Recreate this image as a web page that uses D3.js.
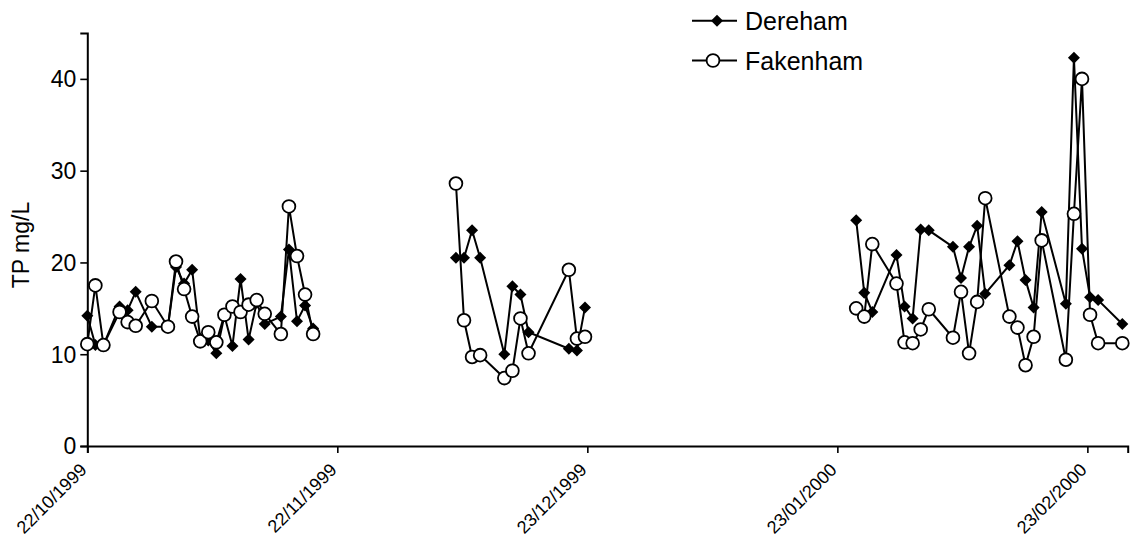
<!DOCTYPE html>
<html>
<head>
<meta charset="utf-8">
<script src="https://cdn.jsdelivr.net/npm/d3@7/dist/d3.min.js"></script>
<style>
  body { margin: 0; background: #fff; }
  svg text { font-family: "Liberation Sans", Arial, Helvetica, sans-serif; fill: #000; }
</style>
</head>
<body>
<svg id="chart" width="1130" height="541"></svg>
<script>
// Sampling times (local), one per sample
const sampleTimes = [
  "1999-10-22 00:00", "1999-10-23 00:00", "1999-10-24 00:00", "1999-10-26 00:00",
  "1999-10-27 00:00", "1999-10-28 00:00", "1999-10-30 00:00", "1999-11-01 00:00",
  "1999-11-02 00:00", "1999-11-03 00:00", "1999-11-04 00:00", "1999-11-05 00:00",
  "1999-11-06 00:00", "1999-11-07 00:00", "1999-11-08 00:00", "1999-11-09 00:00",
  "1999-11-10 00:00", "1999-11-11 00:00", "1999-11-12 00:00", "1999-11-13 00:00",
  "1999-11-15 00:00", "1999-11-16 00:00", "1999-11-17 00:00", "1999-11-18 00:00",
  "1999-11-19 00:00",
  "1999-12-06 17:00", "1999-12-07 17:00", "1999-12-08 17:00", "1999-12-09 17:00",
  "1999-12-12 17:00", "1999-12-13 17:00", "1999-12-14 17:00", "1999-12-15 17:00",
  "1999-12-20 17:00", "1999-12-21 17:00", "1999-12-22 17:00",
  "2000-01-25 08:00", "2000-01-26 08:00", "2000-01-27 08:00", "2000-01-30 08:00",
  "2000-01-31 08:00", "2000-02-01 08:00", "2000-02-02 08:00", "2000-02-03 08:00",
  "2000-02-06 08:00", "2000-02-07 08:00", "2000-02-08 08:00", "2000-02-09 08:00",
  "2000-02-10 08:00", "2000-02-13 08:00", "2000-02-14 08:00", "2000-02-15 08:00",
  "2000-02-16 08:00", "2000-02-17 08:00", "2000-02-20 08:00", "2000-02-21 08:00",
  "2000-02-22 08:00", "2000-02-23 08:00", "2000-02-24 08:00", "2000-02-27 08:00"
];

// Total phosphorus, mg/L
const dereham = [
  14.2, 11.0, 11.0, 15.2, 14.8, 16.8, 13.0, 13.0, 19.5, 17.7, 19.2, 11.7, 11.5,
  10.1, 14.2, 10.9, 18.2, 11.6, 15.6, 13.3, 14.1, 21.4, 13.6, 15.3, 12.8,
  20.5, 20.5, 23.5, 20.5, 10.0, 17.4, 16.5, 12.4, 10.6, 10.4, 15.1,
  24.6, 16.7, 14.6, 20.8, 15.2, 13.9, 23.6, 23.5, 21.7, 18.3, 21.7, 24.0,
  16.6, 19.7, 22.3, 18.1, 15.1, 25.5, 15.5, 42.3, 21.5, 16.2, 15.9, 13.3
];
const fakenham = [
  11.1, 17.5, 11.0, 14.6, 13.5, 13.1, 15.8, 13.0, 20.1, 17.1, 14.1, 11.4, 12.4,
  11.3, 14.3, 15.2, 14.6, 15.4, 15.9, 14.4, 12.2, 26.1, 20.7, 16.5, 12.2,
  28.6, 13.7, 9.7, 9.9, 7.4, 8.2, 13.9, 10.1, 19.2, 11.7, 11.9,
  15.0, 14.1, 22.0, 17.7, 11.3, 11.2, 12.7, 14.9, 11.8, 16.8, 10.1, 15.7,
  27.0, 14.1, 12.9, 8.8, 11.9, 22.4, 9.4, 25.3, 40.0, 14.3, 11.2, 11.2
];

const seriesNames = ["Dereham", "Fakenham"];
const xDomain = ["1999-10-22", "2000-02-28"];
const xTickDates = ["1999-10-22", "1999-11-22", "1999-12-23", "2000-01-23", "2000-02-23"];
const xTickLabels = ["22/10/1999", "22/11/1999", "23/12/1999", "23/01/2000", "23/02/2000"];
const yTicks = [0, 10, 20, 30, 40];
const yMax = 45;
const yLabel = "TP mg/L";

const parseTime = d3.timeParse("%Y-%m-%d %H:%M");
const parseDay = d3.timeParse("%Y-%m-%d");

const svg = d3.select("#chart");

const x = d3.scaleTime()
  .domain(xDomain.map(parseDay))
  .range([87.3, 1127.7]);
const y = d3.scaleLinear()
  .domain([0, yMax])
  .range([446, 33]);

// Axes
const yAxis = d3.axisLeft(y).tickValues(yTicks).tickSize(7).tickPadding(4).tickFormat(d3.format("d"));
const gy = svg.append("g").attr("transform", `translate(${x.range()[0]},0)`).call(yAxis);
gy.select(".domain").attr("stroke", "#000").attr("stroke-width", 2);
gy.selectAll(".tick line").attr("stroke", "#000").attr("stroke-width", 1.6);
gy.selectAll(".tick text").attr("font-size", 23).attr("font-family", null).attr("dy", "0.34em");

const xAxis = d3.axisBottom(x).tickValues(xTickDates.map(parseDay)).tickSize(7)
  .tickFormat((d, i) => xTickLabels[i]);
const gx = svg.append("g").attr("transform", `translate(0,${y(0)})`).call(xAxis);
gx.select(".domain").attr("stroke", "#000").attr("stroke-width", 2);
gx.selectAll(".tick line").attr("stroke", "#000").attr("stroke-width", 1.6);
gx.selectAll(".tick text")
  .attr("font-size", 18)
  .attr("font-family", null)
  .attr("text-anchor", "end")
  .attr("y", 0).attr("dy", 0)
  .attr("transform", "translate(0,25) rotate(-45)");

// Axis title
svg.append("text")
  .attr("transform", `translate(29,${245}) rotate(-90)`)
  .attr("text-anchor", "middle")
  .attr("font-size", 23)
  .text(yLabel);

// Build points and break the line across long gaps between sampling campaigns
const times = sampleTimes.map(parseTime);
function segments(values) {
  const segs = [];
  let cur = [];
  values.forEach((v, i) => {
    if (v == null) return;
    const p = { t: times[i], v };
    if (cur.length && (p.t - cur[cur.length - 1].t) > 10 * 864e5) {
      segs.push(cur);
      cur = [];
    }
    cur.push(p);
  });
  if (cur.length) segs.push(cur);
  return segs;
}

const line = d3.line().x(d => x(d.t)).y(d => y(d.v));
const diamond = d3.symbol().type(d3.symbolDiamond2).size(92);

function drawSeries(values, kind) {
  const g = svg.append("g");
  const segs = segments(values);
  g.selectAll("path.seg").data(segs).join("path")
    .attr("class", "seg")
    .attr("d", line)
    .attr("fill", "none")
    .attr("stroke", "#000")
    .attr("stroke-width", 2);
  const pts = segs.flat();
  if (kind === "diamond") {
    g.selectAll("path.mk").data(pts).join("path")
      .attr("class", "mk")
      .attr("d", diamond)
      .attr("transform", d => `translate(${x(d.t)},${y(d.v)})`)
      .attr("fill", "#000");
  } else {
    g.selectAll("circle").data(pts).join("circle")
      .attr("cx", d => x(d.t)).attr("cy", d => y(d.v)).attr("r", 6.4)
      .attr("fill", "#fff").attr("stroke", "#000").attr("stroke-width", 1.8);
  }
}

drawSeries(dereham, "diamond");
drawSeries(fakenham, "circle");

// Legend
const legend = svg.append("g");
const legendRows = [
  { name: seriesNames[0], y: 20.7, kind: "diamond", mx: 717 },
  { name: seriesNames[1], y: 60.5, kind: "circle", mx: 713 }
];
legendRows.forEach(r => {
  legend.append("line").attr("x1", 692).attr("x2", 737).attr("y1", r.y).attr("y2", r.y)
    .attr("stroke", "#000").attr("stroke-width", 2);
  if (r.kind === "diamond") {
    legend.append("path").attr("d", diamond).attr("transform", `translate(${r.mx},${r.y})`).attr("fill", "#000");
  } else {
    legend.append("circle").attr("cx", r.mx).attr("cy", r.y).attr("r", 6.4)
      .attr("fill", "#fff").attr("stroke", "#000").attr("stroke-width", 1.8);
  }
  legend.append("text").attr("x", 745).attr("y", r.y + 9).attr("font-size", 25).text(r.name);
});
</script>
</body>
</html>
